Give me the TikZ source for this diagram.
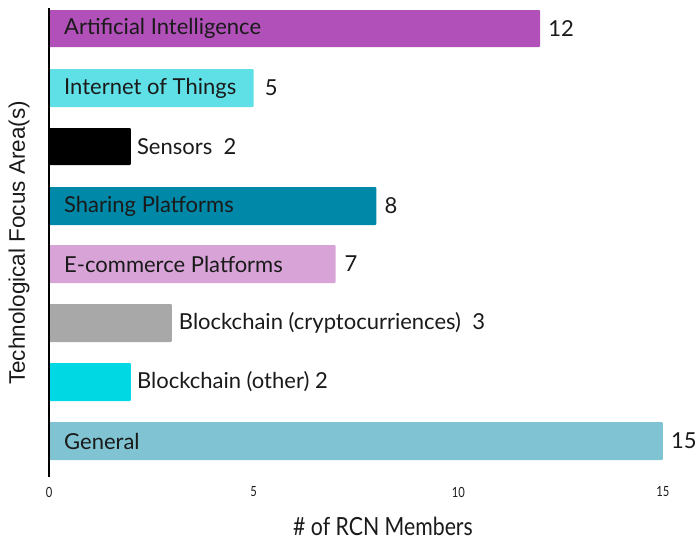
\documentclass[tikz,border=0pt]{standalone}
\usepackage{fontspec}
\setmainfont{Lato}
\newfontfamily\condfont[FakeStretch=0.8]{Lato}
\newfontfamily\titlefont[FakeStretch=0.85]{Lato}
\newfontfamily\yfont{Liberation Sans}
\definecolor{cAI}{HTML}{B050B8}
\definecolor{cIoT}{HTML}{5EE0E6}
\definecolor{cSen}{HTML}{000000}
\definecolor{cShare}{HTML}{0088A8}
\definecolor{cEcom}{HTML}{D8A4D8}
\definecolor{cCrypto}{HTML}{A8A8A8}
\definecolor{cOther}{HTML}{00D8E4}
\definecolor{cGen}{HTML}{80C4D4}
\definecolor{txt}{HTML}{1A1A1A}
\begin{document}
\begin{tikzpicture}[x=1pt,y=-1pt,
  inlbl/.style={anchor=west, font=\fontsize{22}{24}\selectfont, text=txt, inner sep=0pt},
  val/.style={anchor=west, font=\fontsize{22}{24}\selectfont, text=txt, inner sep=0pt},
  tick/.style={font=\condfont\fontsize{14}{15}\selectfont, text=txt, inner sep=0pt},
  axtitle/.style={text=txt, inner sep=0pt}]
\useasboundingbox (0,0) rectangle (697,542);
\def\u{40.93}
% bars
\fill[cAI, rounded corners=1pt] (49,10) rectangle ({49+12*\u},47);
\fill[cIoT, rounded corners=1pt] (49,69) rectangle ({49+5*\u},107);
\fill[cSen, rounded corners=1pt] (49,128) rectangle ({49+2*\u},165);
\fill[cShare, rounded corners=1pt] (49,187) rectangle ({49+8*\u},225);
\fill[cEcom, rounded corners=1pt] (49,245) rectangle ({49+7*\u},283);
\fill[cCrypto, rounded corners=1pt] (49,304) rectangle ({49+3*\u},342);
\fill[cOther, rounded corners=1pt] (49,363) rectangle ({49+2*\u},401);
\fill[cGen, rounded corners=1pt] (49,422) rectangle ({49+15*\u},460);
% axis
\draw[line width=2.6pt, black] (49,8) coordinate (atop) -- (49,477) coordinate (abot);
% labels
\node[inlbl] (lAI) at (64,28.5) {Artificial Intelligence};
\node[val] (vAI) at ({49+12*\u+8},28.5) {12};
\node[inlbl] (lIoT) at (64,88) {Internet of Things};
\node[val] (vIoT) at ({49+5*\u+11},88) {5};
\node[inlbl] (lSen) at ({49+2*\u+6},146.5) {Sensors\ \ 2};
\node[inlbl] (lShare) at (64,206) {Sharing Platforms};
\node[val] (vShare) at ({49+8*\u+8},206) {8};
\node[inlbl] (lEcom) at (64,264) {E-commerce Platforms};
\node[val] (vEcom) at ({49+7*\u+9},264) {7};
\node[inlbl] (lCrypto) at ({49+3*\u+7},323) {Blockchain (cryptocurriences)\ \ 3};
\node[inlbl] (lOther) at ({49+2*\u+6},382) {Blockchain (other) 2};
\node[inlbl] (lGen) at (64,441) {General};
\node[val] (vGen) at ({49+15*\u+8},441) {15};
% ticks
\node[tick] (t0) at (49,492) {0};
\node[tick] (t5) at ({49+5*\u},492) {5};
\node[tick] (t10) at ({49+10*\u},492) {10};
\node[tick] (t15) at ({49+15*\u},492) {15};
% axis titles
\node[axtitle, font=\titlefont\fontsize{25}{27}\selectfont] (xt) at (383,526) {\#~of RCN Members};
\node[axtitle, rotate=90, font=\yfont\fontsize{22.5}{24}\selectfont] (yt) at (19,243) {Technological Focus Area(s)};
\end{tikzpicture}
\end{document}
